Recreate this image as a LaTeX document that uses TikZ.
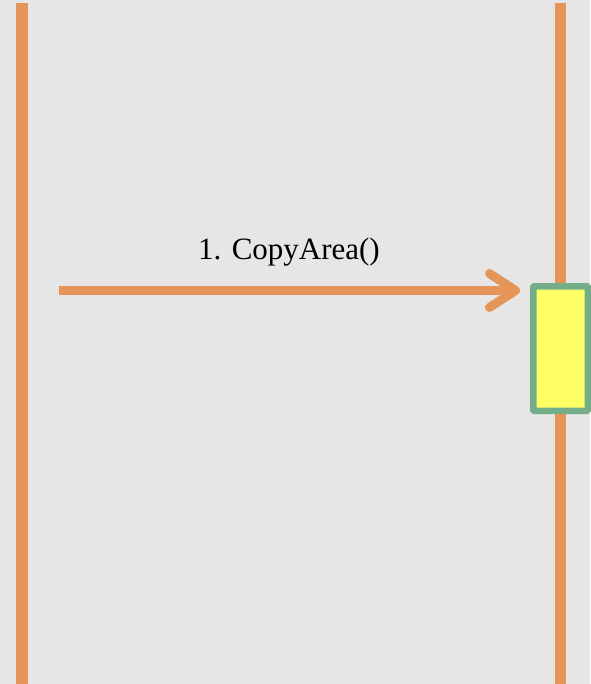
\documentclass[tikz,border=0pt]{standalone}
\usepackage{fontspec}
\setmainfont{Liberation Serif}
\usetikzlibrary{positioning, arrows.meta}
\definecolor{lifeorange}{HTML}{E69558}
\definecolor{actgreen}{HTML}{74AE89}
\definecolor{actyellow}{HTML}{FFFF66}
\definecolor{bggray}{HTML}{E6E6E6}
\tikzset{
    lifeline/.style={lifeorange,line width=11.5pt},
    activation/.style={draw=actgreen,fill=actyellow,line width=6.5pt,minimum width=54.5pt,minimum height=124.5pt,inner sep=0pt,rounded corners=1pt},
    message/.style={lifeorange,line width=9pt,-{Straight Barb[length=26pt,width=34pt,line cap=round,round]}},
  }

\begin{document}
\begin{tikzpicture}[x=1pt,y=-1pt]
	\pgfmathsetmacro\W{590}
	\pgfmathsetmacro\Hgt{684}
	\pgfmathsetmacro\leftx{22}
	\pgfmathsetmacro\rightx{560.5}
	\pgfmathsetmacro\msgy{290.5}

	\fill[bggray] (0,0) rectangle (\W,\Hgt);
	\useasboundingbox (0,0) rectangle (\W,\Hgt);

	% the two lifelines
	\coordinate (callertop) at (\leftx,3);
	\coordinate (callerbot) at (\leftx,\Hgt);
	\coordinate (calleetop) at (\rightx,3);
	\coordinate (calleebot) at (\rightx,\Hgt);
	\draw[lifeline] (callertop) -- (callerbot);
	\draw[lifeline] (calleetop) -- (calleebot);

	% activation bar on the callee
	\node[activation] (act) at (\rightx,348.5) {};

	% the call
	\coordinate (send) at (59,\msgy);
	\coordinate (recv) at (520,\msgy);
	\draw[message] (send) -- (recv);
	\node[font=\fontsize{31}{34}\selectfont,anchor=base] (msg) at (289,259) {1. CopyArea()};
\end{tikzpicture}
\end{document}
